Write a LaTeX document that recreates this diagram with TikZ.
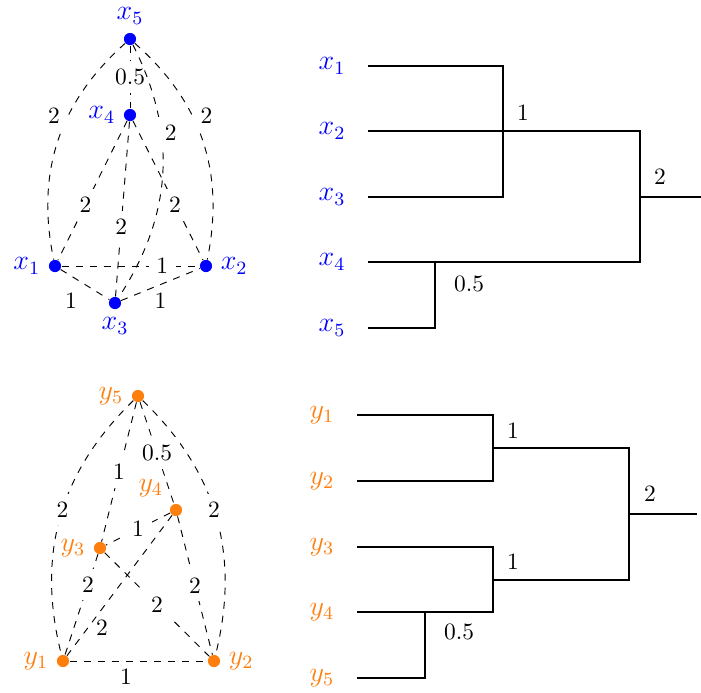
\documentclass[tikz,border=0pt]{standalone}
\definecolor{myorange}{RGB}{255,127,14}
\begin{document}
\begin{tikzpicture}[scale = 0.75,
  vx/.style = {circle, fill=blue, inner sep=0pt, minimum size=5.2pt},
  vy/.style = {circle, fill=myorange, inner sep=0pt, minimum size=5.2pt},
  edge/.style = {dashed},
  lab/.style = {fill=white},
  tree/.style = {thick}]
\useasboundingbox (0,0) rectangle (14.02,-13.84);
% graph x
\node[vx, label={[blue, font=\large]above:$x_5$}] (x5) at (2.60,-0.78){};
\node[vx, label={[blue, font=\large]left:$x_4$}] (x4) at (2.60,-2.30){};
\node[vx, label={[blue, font=\large]left:$x_1$}] (x1) at (1.10,-5.32){};
\node[vx, label={[blue, font=\large]right:$x_2$}] (x2) at (4.12,-5.32){};
\node[vx, label={[blue, font=\large]below:$x_3$}] (x3) at (2.30,-6.06){};
\draw[edge] (x5) -- node[lab]{0.5} (x4);
\draw[edge] (x5) to[bend right=30] node[lab, pos=0.38, left]{2} (x1);
\draw[edge] (x5) to[bend left=30] node[lab, pos=0.38, right]{2} (x2);
\draw[edge] (x5) to[bend left=30] node[lab, pos=0.34, right, xshift=-2pt]{2} (x3);
\draw[edge] (x4) -- node[lab, pos=0.6]{2} (x1);
\draw[edge] (x4) -- node[lab, pos=0.6]{2} (x3);
\draw[edge] (x4) -- node[lab, pos=0.6]{2} (x2);
\draw[edge] (x1) -- node[lab, pos=0.73]{1} (x2);
\draw[edge] (x1) -- node[below left]{1} (x3);
\draw[edge] (x3) -- node[below]{1} (x2);
% graph y
\node[vy, label={[myorange, font=\large]left:$y_5$}] (y5) at (2.76,-7.92){};
\node[vy, label={[myorange, font=\large]above left:$y_4$}] (y4) at (3.52,-10.20){};
\node[vy, label={[myorange, font=\large]left:$y_3$}] (y3) at (2.00,-10.96){};
\node[vy, label={[myorange, font=\large]left:$y_1$}] (y1) at (1.26,-13.22){};
\node[vy, label={[myorange, font=\large]right:$y_2$}] (y2) at (4.28,-13.22){};
\draw[edge] (y5) to[bend right=30] node[lab, pos=0.47]{2} (y1);
\draw[edge] (y5) to[bend left=30] node[lab, pos=0.47]{2} (y2);
\draw[edge] (y5) -- node[lab]{1} (y3);
\draw[edge] (y5) -- node[lab]{0.5} (y4);
\draw[edge] (y4) -- node[lab]{1} (y3);
\draw[edge] (y4) -- node[pos=0.8, right]{2} (y1);
\draw[edge] (y3) -- node[lab, pos=0.3]{2} (y1);
\draw[edge] (y3) -- node[lab]{2} (y2);
\draw[edge] (y4) -- node[lab]{2} (y2);
\draw[edge] (y1) -- node[pos=0.41, below]{1} (y2);
% dendrogram x
\node[text=blue, font=\large] (tx1) at (6.64,-1.32){$x_1$};
\node[text=blue, font=\large] (tx2) at (6.64,-2.62){$x_2$};
\node[text=blue, font=\large] (tx3) at (6.64,-3.94){$x_3$};
\node[text=blue, font=\large] (tx4) at (6.64,-5.24){$x_4$};
\node[text=blue, font=\large] (tx5) at (6.64,-6.56){$x_5$};
\coordinate (lx1) at (7.36,-1.32);
\coordinate (lx2) at (7.36,-2.62);
\coordinate (lx3) at (7.36,-3.94);
\coordinate (lx4) at (7.36,-5.24);
\coordinate (lx5) at (7.36,-6.56);
\coordinate (a1) at (10.06,-1.32);
\coordinate (a3) at (10.06,-3.94);
\coordinate (b2) at (12.80,-2.62);
\coordinate (b4) at (12.80,-5.24);
\coordinate (bm) at (12.80,-3.94);
\coordinate (broot) at (14.02,-3.94);
\coordinate (c4) at (8.70,-5.24);
\coordinate (c5) at (8.70,-6.56);
\draw[tree] (lx1) -- (a1) -- (a3) -- (lx3);
\draw[tree] (lx2) -- (b2) -- (b4) -- (lx4);
\draw[tree] (bm) -- (broot);
\draw[tree] (c4) -- (c5) -- (lx5);
\node[] (hx1) at (10.46,-2.26){1};
\node[] (hx2) at (13.20,-3.54){2};
\node[] (hx3) at (9.38,-5.68){0.5};
% dendrogram y
\node[text=myorange, font=\large] (ty1) at (6.44,-8.30){$y_1$};
\node[text=myorange, font=\large] (ty2) at (6.44,-9.62){$y_2$};
\node[text=myorange, font=\large] (ty3) at (6.44,-10.94){$y_3$};
\node[text=myorange, font=\large] (ty4) at (6.44,-12.24){$y_4$};
\node[text=myorange, font=\large] (ty5) at (6.44,-13.56){$y_5$};
\coordinate (ly1) at (7.14,-8.30);
\coordinate (ly2) at (7.14,-9.62);
\coordinate (ly3) at (7.14,-10.94);
\coordinate (ly4) at (7.14,-12.24);
\coordinate (ly5) at (7.14,-13.56);
\coordinate (p1) at (9.86,-8.30);
\coordinate (p2) at (9.86,-9.62);
\coordinate (pm) at (9.86,-8.96);
\coordinate (q3) at (9.86,-10.94);
\coordinate (q4) at (9.86,-12.24);
\coordinate (qm) at (9.86,-11.60);
\coordinate (r1) at (12.58,-8.96);
\coordinate (r2) at (12.58,-11.60);
\coordinate (rm) at (12.58,-10.28);
\coordinate (rroot) at (13.94,-10.28);
\coordinate (s4) at (8.50,-12.24);
\coordinate (s5) at (8.50,-13.56);
\draw[tree] (ly1) -- (p1) -- (p2) -- (ly2);
\draw[tree] (ly3) -- (q3) -- (q4) -- (ly4);
\draw[tree] (pm) -- (r1) -- (r2) -- (qm);
\draw[tree] (rm) -- (rroot);
\draw[tree] (s4) -- (s5) -- (ly5);
\node[] (hy1) at (10.26,-8.62){1};
\node[] (hy2) at (10.26,-11.24){1};
\node[] (hy3) at (13.00,-9.88){2};
\node[] (hy4) at (9.18,-12.64){0.5};
\end{tikzpicture}
\end{document}
